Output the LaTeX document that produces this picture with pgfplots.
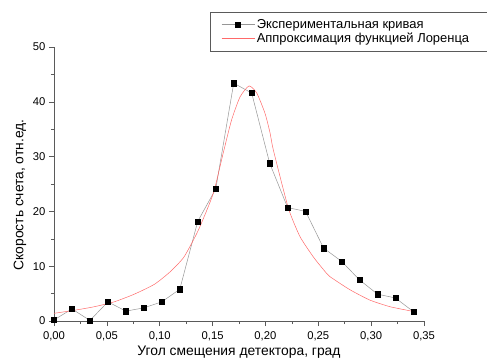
\documentclass[border=0pt]{standalone}
\usepackage{fontspec}
\setmainfont{Liberation Sans}
\usepackage{pgfplots}
\pgfplotsset{compat=1.18}
\definecolor{axgray}{RGB}{90,90,90}
\definecolor{lngray}{RGB}{150,150,150}
\definecolor{fitred}{RGB}{255,105,105}
\begin{document}
\begin{tikzpicture}
\useasboundingbox (-54bp,-42bp) rectangle (433bp,321bp);
\begin{axis}[
  at={(0,0)}, anchor=south west,
  scale only axis, width=370bp, height=274bp,
  xmin=0, xmax=0.35, ymin=0, ymax=50,
  axis lines*=left,
  axis line style={axgray, line width=0.6pt},
  tick style={axgray, line width=0.6pt},
  tick align=outside,
  major tick length=5bp, minor tick length=3bp,
  xtick={0,0.05,...,0.35}, ytick={0,10,...,50},
  minor x tick num=1, minor y tick num=1,
  /pgf/number format/assume math mode=true,
  xticklabel style={yshift=-2.5bp, /pgf/number format/.cd, fixed, fixed zerofill, precision=2, use comma},
  ticklabel style={font=\fontsize{11.3}{13}\selectfont},
  xlabel={Угол смещения детектора, град},
  ylabel={Скорость счета, отн.ед.},
  label style={font=\fontsize{13.9}{15}\selectfont},
  xlabel style={at={(rel axis cs:0.5,0)}, anchor=center, yshift=-31bp},
  ylabel style={at={(rel axis cs:0,0.46)}, anchor=center, yshift=34bp},
  clip=false,
  legend cell align=left,
  legend style={at={(rel axis cs:0.4216,1.128)}, anchor=north west,
    draw=axgray, line width=0.6pt, font=\fontsize{13}{15}\selectfont,
    inner xsep=11bp, inner ysep=5bp, row sep=-1bp},
  legend image code/.code={\draw[mark repeat=2,mark phase=2,#1] plot coordinates {(0bp,0bp) (16.5bp,0bp) (33bp,0bp)};},
]
\addplot[color=lngray, draw=lngray, line width=0.5pt, mark=square*, mark size=2.6bp,
  mark options={fill=black, draw=black, line width=0.3pt}] coordinates {
(0.000,0.2) (0.017,2.2) (0.034,0.1) (0.051,3.5) (0.068,1.8) (0.085,2.4)
(0.102,3.5) (0.119,5.8) (0.136,18.2) (0.153,24.1) (0.170,43.4) (0.187,41.6)
(0.204,28.8) (0.221,20.7) (0.238,20.0) (0.255,13.3) (0.272,10.9) (0.289,7.5)
(0.306,4.9) (0.323,4.2) (0.340,1.7)};
\addlegendentry{Экспериментальная кривая}
\addplot[color=fitred, draw=fitred, line width=0.5pt, smooth, tension=0.35] coordinates {
(0.000,1.4) (0.019,1.95) (0.038,2.6) (0.057,3.5) (0.076,4.9) (0.095,6.7)
(0.110,9.0) (0.123,11.7) (0.1366,16.6) (0.1507,23.3) (0.160,30.6) (0.168,36.7)
(0.176,40.9) (0.1845,42.9) (0.1918,41.6) (0.1996,37.9) (0.2044,34.3) (0.2075,31.2)
(0.2217,20.6) (0.2327,15.4) (0.2453,11.7) (0.2548,9.4) (0.261,8.1) (0.280,5.7)
(0.299,3.8) (0.318,2.6) (0.3384,1.8)};
\addlegendentry{Аппроксимация функцией Лоренца\hspace*{40bp}}
\end{axis}
\end{tikzpicture}
\end{document}
